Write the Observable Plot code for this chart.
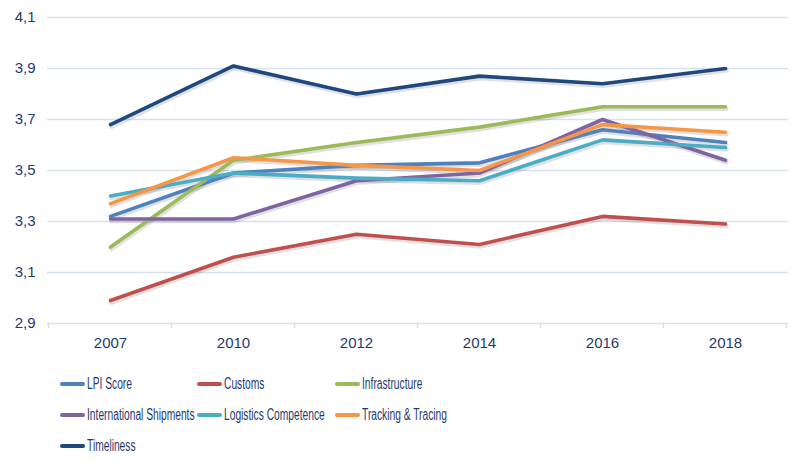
<!DOCTYPE html>
<html>
<head>
<meta charset="utf-8">
<script src="https://cdn.jsdelivr.net/npm/d3@7"></script>
<script src="https://cdn.jsdelivr.net/npm/@observablehq/plot@0.6"></script>
<style>
  html, body { margin: 0; padding: 0; background: #fff; }
  #wrap { position: relative; width: 800px; height: 466px; font-family: "Liberation Sans", Arial, sans-serif; }
  #chart svg { display: block; }
  #legend { position: absolute; left: 60px; top: 368px; display: grid; grid-template-columns: 137px 138px 200px; grid-auto-rows: 31px; }
  .item { display: flex; align-items: center; font-size: 16px; color: #1f3b6e; white-space: nowrap; }
  .sw { width: 25px; height: 4px; border-radius: 2px; margin-right: 2px; flex: none; }
  .lbl { display: inline-block; transform: scaleX(0.64); transform-origin: 0 50%; }
</style>
</head>
<body>
<div id="wrap">
  <div id="chart"></div>
  <div id="legend"></div>
</div>
<script>
const years = ["2007", "2010", "2012", "2014", "2016", "2018"];
const seriesNames = ["LPI Score", "Customs", "Infrastructure", "International Shipments", "Logistics Competence", "Tracking & Tracing", "Timeliness"];
const seriesColors = ["#4f81bd", "#c0504d", "#9bbb59", "#8064a2", "#4bacc6", "#f79646", "#1f497d"];
const lpiScore = [3.32, 3.49, 3.52, 3.53, 3.66, 3.61];
const customs = [2.99, 3.16, 3.25, 3.21, 3.32, 3.29];
const infrastructure = [3.20, 3.54, 3.61, 3.67, 3.75, 3.75];
const internationalShipments = [3.31, 3.31, 3.46, 3.49, 3.70, 3.54];
const logisticsCompetence = [3.40, 3.49, 3.47, 3.46, 3.62, 3.59];
const trackingTracing = [3.37, 3.55, 3.52, 3.50, 3.68, 3.65];
const timeliness = [3.68, 3.91, 3.80, 3.87, 3.84, 3.90];
const yTicks = [2.9, 3.1, 3.3, 3.5, 3.7, 3.9, 4.1];

const seriesValues = [lpiScore, customs, infrastructure, internationalShipments, logisticsCompetence, trackingTracing, timeliness];
const data = [];
seriesNames.forEach((name, i) => {
  years.forEach((yr, j) => data.push({series: name, year: yr, value: seriesValues[i][j]}));
});

const textColor = "#1f3b6e";
const gridColor = "#d6e0ef";

// boundary tick marks below the axis, computed from the x scale
function boundaryTicks(index, scales) {
  const g = d3.create("svg:g");
  const step = scales.x(years[1]) - scales.x(years[0]);
  const xs = years.map(y => scales.x(y) - step / 2);
  xs.push(scales.x(years[years.length - 1]) + step / 2);
  const yb = scales.y(yTicks[0]);
  for (const x of xs) {
    g.append("line").attr("x1", x).attr("x2", x).attr("y1", yb).attr("y2", yb + 5)
      .attr("stroke", gridColor).attr("stroke-width", 1.5);
  }
  return g.node();
}

const chart = Plot.plot({
  width: 800,
  height: 355,
  marginTop: 17,
  marginBottom: 32,
  marginLeft: 47,
  marginRight: 12,
  style: { fontFamily: "'Liberation Sans', Arial, sans-serif", fontSize: "15px", color: textColor, background: "#fff" },
  x: { type: "point", domain: years, padding: 0.5, label: null },
  y: { domain: [2.9, 4.1], label: null },
  color: { domain: seriesNames, range: seriesColors },
  marks: [
    Plot.ruleY(yTicks, { stroke: gridColor, strokeWidth: 1.3 }),
    Plot.axisY({ ticks: yTicks, tickSize: 0, tickPadding: 12, tickFormat: d => d.toFixed(1).replace(".", ","), fill: textColor, fontSize: 15 }),
    Plot.axisX({ tickSize: 0, tickPadding: 14, fill: textColor, fontSize: 15 }),
    boundaryTicks,
    Plot.line(data, { x: "year", y: "value", z: "series", stroke: "#000", strokeOpacity: 0.12, strokeWidth: 4.5, dx: 1, dy: 2 }),
    Plot.line(data, { x: "year", y: "value", z: "series", stroke: "series", strokeWidth: 3.6, strokeLinecap: "round", strokeLinejoin: "round" })
  ]
});
document.getElementById("chart").appendChild(chart);

const legend = document.getElementById("legend");
seriesNames.forEach((name, i) => {
  const item = document.createElement("div");
  item.className = "item";
  const sw = document.createElement("span");
  sw.className = "sw";
  sw.style.background = seriesColors[i];
  item.appendChild(sw);
  const lbl = document.createElement("span");
  lbl.className = "lbl";
  lbl.textContent = name;
  item.appendChild(lbl);
  legend.appendChild(item);
});
</script>
</body>
</html>
